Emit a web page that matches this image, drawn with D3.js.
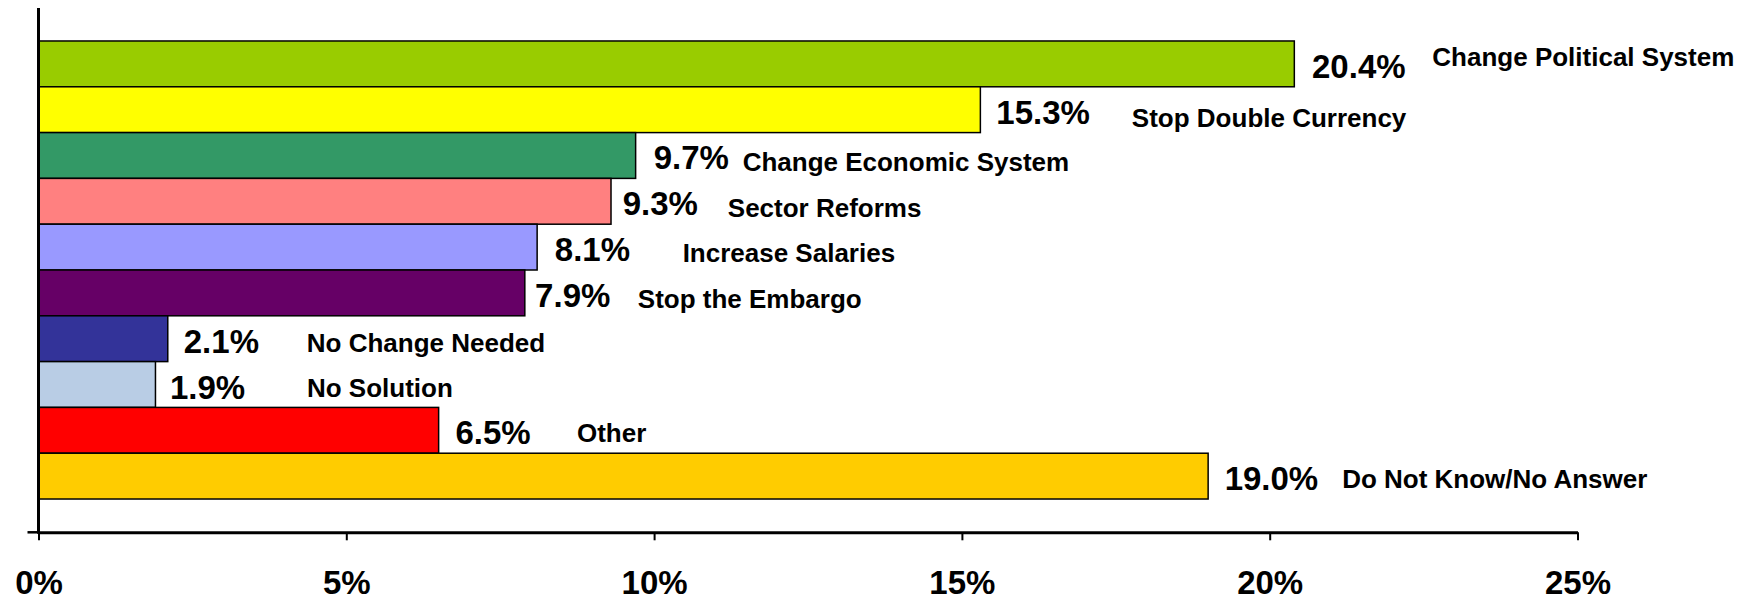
<!DOCTYPE html>
<html>
<head>
<meta charset="utf-8">
<script src="https://cdn.jsdelivr.net/npm/d3@7"></script>
<style>
  html, body { margin: 0; padding: 0; background: #fff; }
  svg { display: block; }
  text { font-family: "Liberation Sans", Arial, Helvetica, sans-serif; font-weight: bold; fill: #000; }
</style>
</head>
<body>
<svg id="chart" width="1758" height="601"></svg>
<script>
// ---- data ----
const categories = [
  "Change Political System", "Stop Double Currency", "Change Economic System",
  "Sector Reforms", "Increase Salaries", "Stop the Embargo",
  "No Change Needed", "No Solution", "Other", "Do Not Know/No Answer"
];
const values = [20.4, 15.3, 9.7, 9.3, 8.1, 7.9, 2.1, 1.9, 6.5, 19.0];
const barColors = ["#99CC00", "#FFFF00", "#339966", "#FF8080", "#9999FF",
                   "#660066", "#333399", "#B9CDE5", "#FF0000", "#FFCC00"];
const tickValues = [0, 5, 10, 15, 20, 25];
const tickLabels = ["0%", "5%", "10%", "15%", "20%", "25%"];

// ---- annotation layout (label offsets, px) ----
const valueDx = [17.7, 16, 18, 11.7, 17.7, 10.3, 16, 14.5, 16.8, 16.5];
const catDx   = [138, 151.5, 107, 116.8, 145.5, 113, 139, 151.5, 138.3, 134];
const catDy   = [2, 17.8, 15.7, 15.7, 15.4, 14.7, 13, 12.9, 11.6, 11.5];

const svg = d3.select("#chart");

const x = d3.scaleLinear().domain([0, 25]).range([38.5, 1577.5]);
const y = d3.scaleBand().domain(categories).range([8, 532])
  .paddingInner(0).paddingOuter(0.72);
const axisY = 532.3;

// bars
svg.append("g").selectAll("rect")
  .data(values)
  .join("rect")
  .attr("x", x(0))
  .attr("y", (d, i) => y(categories[i]))
  .attr("width", d => x(d) - x(0))
  .attr("height", y.bandwidth())
  .attr("fill", (d, i) => barColors[i])
  .attr("stroke", "#000")
  .attr("stroke-width", 1.5);

// value labels
svg.append("g").selectAll("text")
  .data(values)
  .join("text")
  .attr("x", (d, i) => x(d) + valueDx[i])
  .attr("y", (d, i) => y(categories[i]) + y.bandwidth() / 2 + 14)
  .attr("font-size", 33)
  .text(d => d.toFixed(1) + "%");

// category labels
svg.append("g").selectAll("text")
  .data(categories)
  .join("text")
  .attr("x", (d, i) => x(values[i]) + catDx[i])
  .attr("y", (d, i) => y(d) + y.bandwidth() / 2 + catDy[i])
  .attr("font-size", 26)
  .text(d => d);

// x axis
const xAxis = d3.axisBottom(x)
  .tickValues(tickValues)
  .tickFormat((d, i) => tickLabels[i])
  .tickSizeInner(8)
  .tickSizeOuter(0);
const gx = svg.append("g").attr("transform", `translate(0,${axisY})`).call(xAxis);
gx.select(".domain").attr("stroke", "#000").attr("stroke-width", 3);
gx.selectAll(".tick line").attr("stroke", "#000").attr("stroke-width", 2);
gx.selectAll(".tick text")
  .attr("y", 61.5).attr("dy", 0)
  .attr("font-size", 33)
  .attr("fill", "#000");
gx.attr("font-family", null).attr("font-size", null);

// y axis
const yAxis = d3.axisLeft(y).tickValues([]).tickSizeOuter(0);
const gy = svg.append("g").attr("transform", `translate(${x(0)},0)`).call(yAxis);
gy.select(".domain").attr("stroke", "#000").attr("stroke-width", 3)
  .attr("d", `M0,${8}V${axisY + 1.5}`);
// small outer tick at bottom-left
svg.append("line")
  .attr("x1", x(0) - 11).attr("x2", x(0))
  .attr("y1", axisY).attr("y2", axisY)
  .attr("stroke", "#000").attr("stroke-width", 2.5);
</script>
</body>
</html>
